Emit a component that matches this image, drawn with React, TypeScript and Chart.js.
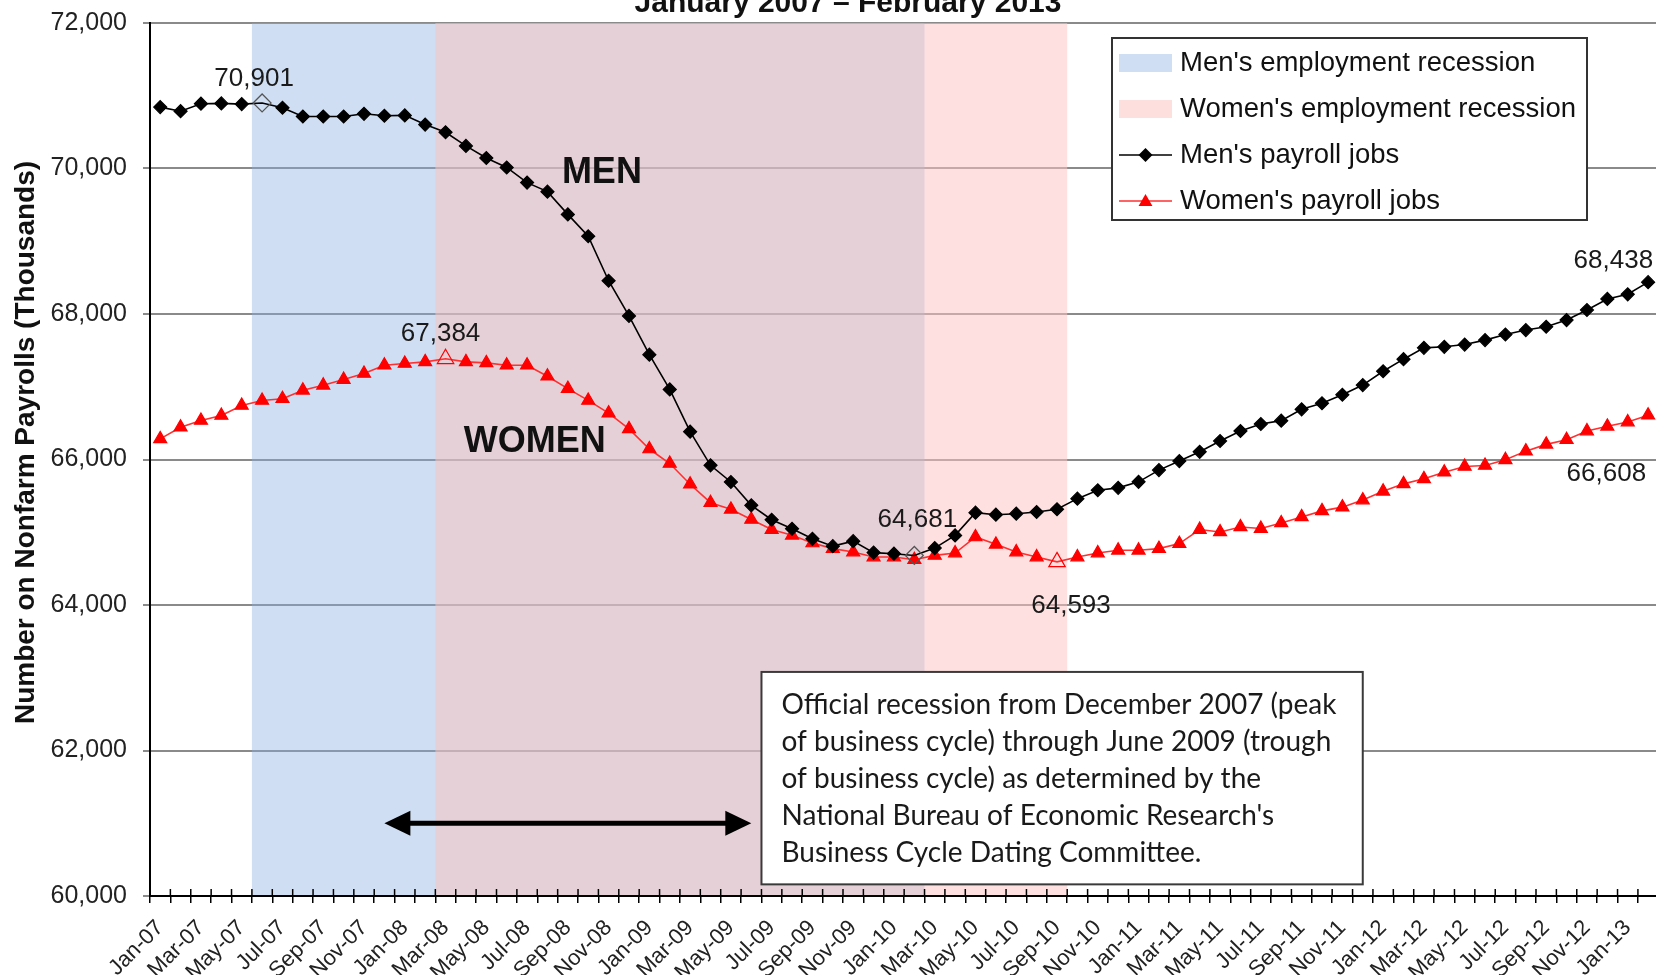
import React, { useEffect, useRef } from 'react';
import { Chart, registerables } from 'chart.js';

Chart.register(...registerables);

// ---------- DATA ----------
const months = [
  'Jan-07','Feb-07','Mar-07','Apr-07','May-07','Jun-07','Jul-07','Aug-07','Sep-07','Oct-07','Nov-07','Dec-07',
  'Jan-08','Feb-08','Mar-08','Apr-08','May-08','Jun-08','Jul-08','Aug-08','Sep-08','Oct-08','Nov-08','Dec-08',
  'Jan-09','Feb-09','Mar-09','Apr-09','May-09','Jun-09','Jul-09','Aug-09','Sep-09','Oct-09','Nov-09','Dec-09',
  'Jan-10','Feb-10','Mar-10','Apr-10','May-10','Jun-10','Jul-10','Aug-10','Sep-10','Oct-10','Nov-10','Dec-10',
  'Jan-11','Feb-11','Mar-11','Apr-11','May-11','Jun-11','Jul-11','Aug-11','Sep-11','Oct-11','Nov-11','Dec-11',
  'Jan-12','Feb-12','Mar-12','Apr-12','May-12','Jun-12','Jul-12','Aug-12','Sep-12','Oct-12','Nov-12','Dec-12',
  'Jan-13','Feb-13',
];

const menJobs = [
  70844, 70788, 70891, 70895, 70885, 70901, 70835, 70715, 70715, 70715, 70752, 70725,
  70730, 70604, 70498, 70310, 70144, 70014, 69806, 69682, 69369, 69069, 68457, 67973,
  67441, 66963, 66382, 65920, 65691, 65370, 65172, 65048, 64910, 64809, 64878, 64720,
  64705, 64681, 64782, 64957, 65269, 65241, 65255, 65278, 65316, 65462, 65577, 65610,
  65693, 65854, 65978, 66106, 66254, 66392, 66488, 66534, 66690, 66773, 66890, 67023,
  67213, 67379, 67535, 67549, 67580, 67641, 67718, 67779, 67825, 67917, 68055, 68207,
  68271, 68438,
];

const womenJobs = [
  66283, 66443, 66536, 66605, 66743, 66812, 66836, 66951, 67020, 67099, 67182, 67296,
  67320, 67342, 67384, 67342, 67328, 67296, 67296, 67144, 66974, 66812, 66637, 66421,
  66144, 65945, 65660, 65406, 65315, 65175, 65037, 64958, 64852, 64775, 64728, 64659,
  64659, 64623, 64682, 64714, 64935, 64834, 64728, 64659, 64593, 64659, 64714, 64752,
  64752, 64775, 64844, 65037, 65004, 65073, 65051, 65128, 65211, 65294, 65345, 65442,
  65563, 65665, 65734, 65825, 65904, 65918, 65996, 66115, 66208, 66272, 66391, 66456,
  66515, 66608,
];

const yMin = 60000;
const yMax = 72000;
const yStep = 2000;

const MEN_PEAK = 'Jun-07';
const MEN_TROUGH = 'Feb-10';
const WOMEN_PEAK = 'Mar-08';
const WOMEN_TROUGH = 'Sep-10';
const NBER_START = 'Dec-07';
const NBER_END = 'Jun-09';
const LAST = 'Feb-13';

const TITLE = 'January 2007 \u2013 February 2013';
const Y_TITLE = 'Number on Nonfarm Payrolls (Thousands)';
const legendItems = [
  "Men's employment recession",
  "Women's employment recession",
  "Men's payroll jobs",
  "Women's payroll jobs",
];
const noteLines = [
  'Official recession from December 2007 (peak',
  'of business cycle) through June 2009 (trough',
  'of business cycle) as determined by the',
  "National Bureau of Economic Research's",
  'Business Cycle Dating Committee.',
];

// ---------- STYLE ----------
const FONT = "'Liberation Sans', Arial, sans-serif";
const BLUE_BAND = 'rgba(135,172,222,0.4)';
const PINK_BAND = 'rgba(251,195,194,0.52)';
const MEN_COLOR = '#000000';
const WOMEN_COLOR = '#ff0000';
const WOMEN_LINE = '#ff3030';

const idx = (m: string) => months.indexOf(m);
const menHollow = [MEN_PEAK, MEN_TROUGH];
const womenHollow = [WOMEN_PEAK, WOMEN_TROUGH];

const bands = [
  { from: MEN_PEAK, to: MEN_TROUGH, color: BLUE_BAND },
  { from: WOMEN_PEAK, to: WOMEN_TROUGH, color: PINK_BAND },
];

const valueLabels = [
  { ds: 0, month: MEN_PEAK, dx: -8, dy: -24, align: 'center' },
  { ds: 1, month: WOMEN_PEAK, dx: -5, dy: -25, align: 'center' },
  { ds: 0, month: MEN_TROUGH, dx: 3, dy: -36, align: 'center' },
  { ds: 1, month: WOMEN_TROUGH, dx: 14, dy: 44, align: 'center' },
  { ds: 0, month: LAST, dx: 5, dy: -21, align: 'right' },
  { ds: 1, month: LAST, dx: -2, dy: 59, align: 'right' },
];

function diamond(ctx: CanvasRenderingContext2D, x: number, y: number, r: number) {
  ctx.beginPath();
  ctx.moveTo(x - r, y);
  ctx.lineTo(x, y - r);
  ctx.lineTo(x + r, y);
  ctx.lineTo(x, y + r);
  ctx.closePath();
}
function triangle(ctx: CanvasRenderingContext2D, x: number, y: number, r: number) {
  ctx.beginPath();
  ctx.moveTo(x, y - r);
  ctx.lineTo(x + r * Math.cos(Math.PI / 6), y + r / 2);
  ctx.lineTo(x - r * Math.cos(Math.PI / 6), y + r / 2);
  ctx.closePath();
}

const decor = {
  id: 'decor',
  beforeDatasetsDraw(chart: any) {
    const { ctx, chartArea: ca, scales } = chart;
    const x = scales.x;
    const step = x.getPixelForValue(1) - x.getPixelForValue(0);
    ctx.save();
    for (const b of bands) {
      const x0 = x.getPixelForValue(idx(b.from)) - step / 2;
      const x1 = x.getPixelForValue(idx(b.to)) + step / 2;
      ctx.fillStyle = b.color;
      ctx.fillRect(x0, ca.top, x1 - x0, ca.bottom - ca.top - 1);
    }
    ctx.restore();
  },
  afterDraw(chart: any) {
    const { ctx, chartArea: ca, scales } = chart;
    const x = scales.x;
    const y = scales.y;
    const step = x.getPixelForValue(1) - x.getPixelForValue(0);
    ctx.save();

    // x axis tick crosses (upper halves)
    ctx.strokeStyle = '#000';
    ctx.lineWidth = 1.5;
    for (let i = 0; i <= months.length; i++) {
      const bx = x.getPixelForValue(i) - step / 2;
      ctx.beginPath();
      ctx.moveTo(bx, ca.bottom - 7);
      ctx.lineTo(bx, ca.bottom);
      ctx.stroke();
    }

    // Title (cut off at top)
    ctx.fillStyle = '#111';
    ctx.font = `bold 30px ${FONT}`;
    ctx.textAlign = 'center';
    ctx.textBaseline = 'alphabetic';
    ctx.fillText(TITLE, 848, 12);

    // Y axis title
    ctx.save();
    ctx.translate(26, (ca.top + ca.bottom) / 2 - 17);
    ctx.rotate(-Math.PI / 2);
    ctx.font = `bold 28px ${FONT}`;
    ctx.textBaseline = 'middle';
    ctx.fillText(Y_TITLE, 0, 0);
    ctx.restore();

    // MEN / WOMEN labels
    ctx.font = `bold 36px ${FONT}`;
    ctx.textAlign = 'center';
    ctx.textBaseline = 'middle';
    ctx.fillStyle = '#111';
    ctx.fillText('MEN', x.getPixelForValue(21.67), y.getPixelForValue(69940));
    ctx.fillText('WOMEN', x.getPixelForValue(18.38), y.getPixelForValue(66245));

    // Value labels
    ctx.font = `26px ${FONT}`;
    ctx.fillStyle = '#1a1a1a';
    for (const l of valueLabels) {
      const i = idx(l.month);
      const pt = chart.getDatasetMeta(l.ds).data[i];
      const v = (l.ds === 0 ? menJobs : womenJobs)[i];
      ctx.textAlign = l.align as CanvasTextAlign;
      ctx.fillText(v.toLocaleString('en-US'), pt.x + l.dx, pt.y + l.dy);
    }

    // NBER arrow
    const ax0 = x.getPixelForValue(idx(NBER_START));
    const ax1 = x.getPixelForValue(idx(NBER_END));
    const ay = y.getPixelForValue(61000);
    const head = 26;
    const hh = 12.5;
    ctx.fillStyle = '#000';
    ctx.strokeStyle = '#000';
    ctx.lineWidth = 5;
    ctx.beginPath();
    ctx.moveTo(ax0 + head - 2, ay);
    ctx.lineTo(ax1 - head + 2, ay);
    ctx.stroke();
    ctx.beginPath();
    ctx.moveTo(ax0, ay);
    ctx.lineTo(ax0 + head, ay - hh);
    ctx.lineTo(ax0 + head, ay + hh);
    ctx.closePath();
    ctx.fill();
    ctx.beginPath();
    ctx.moveTo(ax1, ay);
    ctx.lineTo(ax1 - head, ay - hh);
    ctx.lineTo(ax1 - head, ay + hh);
    ctx.closePath();
    ctx.fill();

    // Note box
    const bx0 = x.getPixelForValue(idx(NBER_END)) + step / 2;
    const bx1 = x.getPixelForValue(59);
    const by0 = y.getPixelForValue(63080);
    const by1 = y.getPixelForValue(60160);
    ctx.fillStyle = '#fff';
    ctx.fillRect(bx0, by0, bx1 - bx0, by1 - by0);
    ctx.strokeStyle = '#3a3a3a';
    ctx.lineWidth = 2;
    ctx.strokeRect(bx0, by0, bx1 - bx0, by1 - by0);
    ctx.fillStyle = '#1a1a1a';
    ctx.font = `28px Lato, 'Open Sans', sans-serif`;
    ctx.textAlign = 'left';
    ctx.textBaseline = 'middle';
    noteLines.forEach((t, k) => ctx.fillText(t, bx0 + 20, by0 + 33 + k * 37));

    // Legend
    const L = { x: 1112, y: 38, w: 475, h: 182 };
    ctx.fillStyle = '#fff';
    ctx.fillRect(L.x, L.y, L.w, L.h);
    ctx.strokeStyle = '#333';
    ctx.lineWidth = 2;
    ctx.strokeRect(L.x, L.y, L.w, L.h);
    ctx.font = `27.5px ${FONT}`;
    ctx.textAlign = 'left';
    ctx.textBaseline = 'middle';
    const sx0 = L.x + 7;
    const sx1 = L.x + 60;
    legendItems.forEach((t, k) => {
      const cy = L.y + 25 + k * 46;
      if (k === 0 || k === 1) {
        ctx.fillStyle = k === 0 ? 'rgb(207,222,242)' : 'rgb(253,224,222)';
        ctx.fillRect(sx0, cy - 9, sx1 - sx0, 18);
      } else if (k === 2) {
        ctx.strokeStyle = MEN_COLOR;
        ctx.lineWidth = 1.6;
        ctx.beginPath();
        ctx.moveTo(sx0, cy);
        ctx.lineTo(sx1, cy);
        ctx.stroke();
        ctx.fillStyle = MEN_COLOR;
        diamond(ctx, (sx0 + sx1) / 2, cy, 7);
        ctx.fill();
      } else {
        ctx.strokeStyle = WOMEN_LINE;
        ctx.lineWidth = 1.6;
        ctx.beginPath();
        ctx.moveTo(sx0, cy);
        ctx.lineTo(sx1, cy);
        ctx.stroke();
        ctx.fillStyle = WOMEN_COLOR;
        triangle(ctx, (sx0 + sx1) / 2, cy + 1, 8);
        ctx.fill();
      }
      ctx.fillStyle = '#111';
      ctx.fillText(t, L.x + 68, cy);
    });

    ctx.restore();
  },
};

export default function App() {
  const ref = useRef<HTMLCanvasElement>(null);
  useEffect(() => {
    if (!ref.current) return;
    Chart.defaults.font.family = FONT;
    const chart = new Chart(ref.current, {
      type: 'line',
      data: {
        labels: months,
        datasets: [
          {
            label: "Men's payroll jobs",
            data: menJobs,
            borderColor: MEN_COLOR,
            borderWidth: 1.6,
            pointStyle: 'rectRot',
            pointRadius: months.map((m) => (menHollow.includes(m) ? 9 : 6.5)),
            pointBackgroundColor: months.map((m) => (menHollow.includes(m) ? 'rgba(0,0,0,0)' : MEN_COLOR)),
            pointBorderColor: months.map((m) => (menHollow.includes(m) ? '#555' : MEN_COLOR)),
            pointBorderWidth: 1.2,
            tension: 0,
            fill: false,
          },
          {
            label: "Women's payroll jobs",
            data: womenJobs,
            borderColor: WOMEN_LINE,
            borderWidth: 1.6,
            pointStyle: 'triangle',
            pointRadius: months.map((m) => (womenHollow.includes(m) ? 9.5 : 7.5)),
            pointBackgroundColor: months.map((m) => (womenHollow.includes(m) ? 'rgba(0,0,0,0)' : WOMEN_COLOR)),
            pointBorderColor: WOMEN_COLOR,
            pointBorderWidth: 1.2,
            tension: 0,
            fill: false,
          },
        ],
      },
      options: {
        responsive: false,
        devicePixelRatio: 1,
        animation: false,
        layout: { padding: { top: 23, right: 0, left: 0, bottom: 0 } },
        plugins: {
          legend: { display: false },
          tooltip: { enabled: false },
          title: { display: false },
        },
        scales: {
          x: {
            type: 'category',
            offset: true,
            grid: {
              display: true,
              drawOnChartArea: false,
              drawTicks: true,
              tickLength: 7,
              offset: true,
              color: '#000',
              lineWidth: 1.5,
            },
            border: { display: true, color: '#000', width: 2 },
            ticks: {
              autoSkip: false,
              maxRotation: 45,
              minRotation: 45,
              padding: 12,
              color: '#222',
              font: { family: FONT, size: 22 },
              callback: (_v: any, i: number) => (i % 2 === 0 ? months[i] : ''),
            },
            afterFit: (s: any) => {
              s.height = 79;
              s.paddingLeft = 0;
              s.paddingRight = 0;
            },
          },
          y: {
            min: yMin,
            max: yMax,
            ticks: {
              stepSize: yStep,
              color: '#222',
              padding: 16,
              font: { family: FONT, size: 25 },
              callback: (v: any) => Number(v).toLocaleString('en-US'),
            },
            grid: { color: '#8a8a8a', lineWidth: 2, tickLength: 7, drawTicks: true },
            border: { display: true, color: '#000', width: 2 },
            afterFit: (s: any) => {
              s.width = 150;
              s.paddingTop = 0;
              s.paddingBottom = 0;
            },
          },
        },
      },
      plugins: [decor],
    } as any);
    return () => chart.destroy();
  }, []);
  return (
    <div style={{ position: 'absolute', left: 0, top: 0, width: 1656, height: 975, background: '#fff', overflow: 'hidden' }}>
      <canvas ref={ref} width={1667} height={975} style={{ display: 'block' }} />
    </div>
  );
}
